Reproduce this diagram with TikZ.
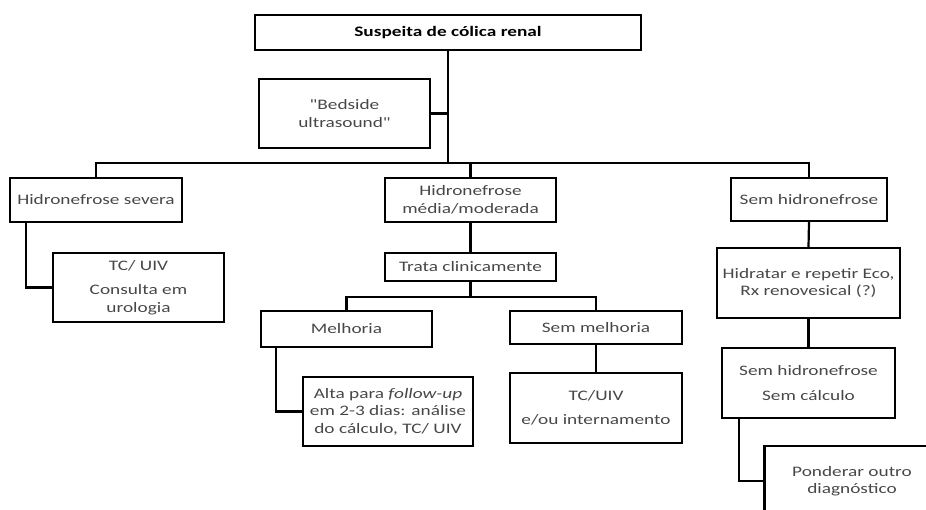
\documentclass[tikz,border=0pt]{standalone}
\usepackage{fontspec}
\setmainfont{Carlito}[FakeStretch=1.33]
\newfontfamily\straightquote{Carlito}[FakeStretch=1.33,Ligatures=TeXOff]
\newcommand{\sq}{{\straightquote"}}
\tikzset{
  box/.style={draw,line width=2.2pt,align=center,inner sep=1pt,
    text=black!72,font=\fontsize{14.5}{17.5}\selectfont},
  link/.style={line width=2.2pt,line cap=rect}
}

\begin{document}
\begin{tikzpicture}[x=1pt,y=-1pt]

        \useasboundingbox (0,0) rectangle (926,510);
        \clip (0,0) rectangle (926,510);

        \begin{scope}[every node/.style={box}]
          \node[minimum width=386pt,minimum height=35pt,text=black] (top) at (448,32.5) {\textbf{Suspeita de cólica renal}};
          \node[minimum width=171pt,minimum height=69pt] (bedside) at (344.5,113.5) {\sq Bedside\\ultrasound\sq};
          \node[minimum width=172pt,minimum height=44pt] (severa) at (96,200) {Hidronefrose severa};
          \node[minimum width=171pt,minimum height=44pt] (media) at (470.5,200) {Hidronefrose\\média/moderada};
          \node[minimum width=156pt,minimum height=43pt] (semhidro) at (809,199.5) {Sem hidronefrose};
          \node[minimum width=171pt,minimum height=69pt] (tcuiv) at (138.5,287.5) {TC/ UIV\\[7pt]Consulta em\\urologia};
          \node[minimum width=171pt,minimum height=28pt] (trata) at (470.5,267) {Trata clinicamente};
          \node[minimum width=171pt,minimum height=36pt] (melhoria) at (346.5,329) {Melhoria};
          \node[minimum width=172pt,minimum height=33pt] (semmelhoria) at (596,327.5) {Sem melhoria};
          \node[minimum width=170pt,minimum height=69pt] (alta) at (388,411.5) {Alta para \textit{follow-up}\\em 2-3 dias: análise\\do cálculo, TC/ UIV};
          \node[minimum width=172pt,minimum height=70pt] (internamento) at (596,408) {TC/UIV\\[7pt]e/ou internamento};
          \node[minimum width=183pt,minimum height=70pt] (hidratar) at (808.5,283) {Hidratar e repetir Eco,\\Rx renovesical (?)};
          \node[minimum width=173pt,minimum height=70pt] (semcalculo) at (808.5,383) {Sem hidronefrose\\[7pt]Sem cálculo};
          \node[minimum width=175pt,minimum height=70pt] (ponderar) at (852,481) {Ponderar outro\\diagnóstico};
        \end{scope}

        \coordinate (hub) at (448,163);
        \coordinate (split) at (470.5,297);

        \begin{scope}[link]
          \draw (top.south) -- (hub);
          \draw (bedside.east) -- (bedside.east -| top.south);
          \draw (severa.north) |- (hub) -| (semhidro.north);
          \draw (media.north) -- (media.north |- hub);
          \draw ([xshift=17pt]severa.south west) |- (tcuiv.west);
          \draw (media.south) -- (trata.north);
          \draw (trata.south) -- (split);
          \draw (melhoria.north) |- (split) -| (semmelhoria.north);
          \draw ([xshift=16pt]melhoria.south west) |- (alta.west);
          \draw (semmelhoria.south) -- (internamento.north);
          \draw (semhidro.south) -- (hidratar.north);
          \draw (hidratar.south) -- (semcalculo.north);
          \draw ([xshift=18pt]semcalculo.south west) |- (ponderar.west);
        \end{scope}

      \end{tikzpicture}
\end{document}
